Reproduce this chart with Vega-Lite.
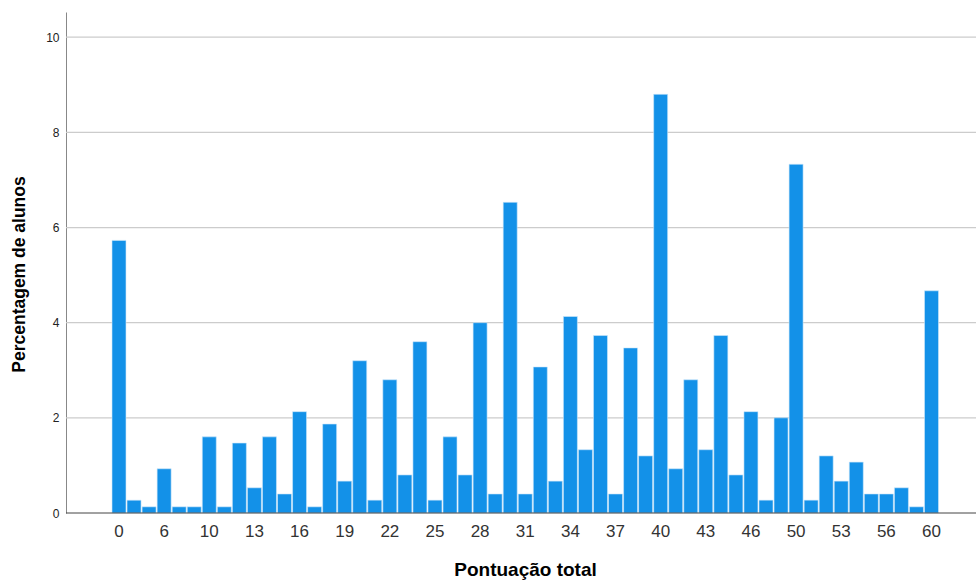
{
  "$schema": "https://vega.github.io/schema/vega-lite/v6.json",
  "width": 910,
  "height": 501,
  "autosize": {"type": "none"},
  "padding": {"left": 66, "top": 12, "right": 0, "bottom": 70},
  "background": "white",
  "config": {
    "font": "Liberation Sans",
    "view": {"stroke": null}
  },
  "datasets": {
    "grelha": [
      {"valor": 2}, {"valor": 4}, {"valor": 6}, {"valor": 8}, {"valor": 10}
    ],
    "base": [
      {"valor": 0}
    ],
    "pontuacoes": [
      {"pontuacao": 0, "percentagem": 5.73},
      {"pontuacao": 2, "percentagem": 0.27},
      {"pontuacao": 4, "percentagem": 0.13},
      {"pontuacao": 6, "percentagem": 0.93},
      {"pontuacao": 7, "percentagem": 0.13},
      {"pontuacao": 8, "percentagem": 0.13},
      {"pontuacao": 10, "percentagem": 1.6},
      {"pontuacao": 11, "percentagem": 0.13},
      {"pontuacao": 12, "percentagem": 1.47},
      {"pontuacao": 13, "percentagem": 0.53},
      {"pontuacao": 14, "percentagem": 1.6},
      {"pontuacao": 15, "percentagem": 0.4},
      {"pontuacao": 16, "percentagem": 2.13},
      {"pontuacao": 17, "percentagem": 0.13},
      {"pontuacao": 18, "percentagem": 1.87},
      {"pontuacao": 19, "percentagem": 0.67},
      {"pontuacao": 20, "percentagem": 3.2},
      {"pontuacao": 21, "percentagem": 0.27},
      {"pontuacao": 22, "percentagem": 2.8},
      {"pontuacao": 23, "percentagem": 0.8},
      {"pontuacao": 24, "percentagem": 3.6},
      {"pontuacao": 25, "percentagem": 0.27},
      {"pontuacao": 26, "percentagem": 1.6},
      {"pontuacao": 27, "percentagem": 0.8},
      {"pontuacao": 28, "percentagem": 4.0},
      {"pontuacao": 29, "percentagem": 0.4},
      {"pontuacao": 30, "percentagem": 6.53},
      {"pontuacao": 31, "percentagem": 0.4},
      {"pontuacao": 32, "percentagem": 3.07},
      {"pontuacao": 33, "percentagem": 0.67},
      {"pontuacao": 34, "percentagem": 4.13},
      {"pontuacao": 35, "percentagem": 1.33},
      {"pontuacao": 36, "percentagem": 3.73},
      {"pontuacao": 37, "percentagem": 0.4},
      {"pontuacao": 38, "percentagem": 3.47},
      {"pontuacao": 39, "percentagem": 1.2},
      {"pontuacao": 40, "percentagem": 8.8},
      {"pontuacao": 41, "percentagem": 0.93},
      {"pontuacao": 42, "percentagem": 2.8},
      {"pontuacao": 43, "percentagem": 1.33},
      {"pontuacao": 44, "percentagem": 3.73},
      {"pontuacao": 45, "percentagem": 0.8},
      {"pontuacao": 46, "percentagem": 2.13},
      {"pontuacao": 47, "percentagem": 0.27},
      {"pontuacao": 48, "percentagem": 2.0},
      {"pontuacao": 50, "percentagem": 7.33},
      {"pontuacao": 51, "percentagem": 0.27},
      {"pontuacao": 52, "percentagem": 1.2},
      {"pontuacao": 53, "percentagem": 0.67},
      {"pontuacao": 54, "percentagem": 1.07},
      {"pontuacao": 55, "percentagem": 0.4},
      {"pontuacao": 56, "percentagem": 0.4},
      {"pontuacao": 57, "percentagem": 0.53},
      {"pontuacao": 58, "percentagem": 0.13},
      {"pontuacao": 60, "percentagem": 4.67}
    ]
  },
  "layer": [
    {
      "data": {"name": "grelha"},
      "mark": {"type": "rule", "color": "#cccccc", "strokeWidth": 1.2},
      "encoding": {
        "y": {"field": "valor", "type": "quantitative"}
      }
    },
    {
      "data": {"name": "pontuacoes"},
      "mark": {"type": "bar", "color": "#1391e8", "stroke": "#cfe8fa", "strokeWidth": 0.6},
      "encoding": {
        "x": {
          "field": "pontuacao",
          "type": "ordinal",
          "sort": null,
          "scale": {"range": [46, 872.5], "paddingInner": 0.07, "paddingOuter": 0},
          "axis": {
            "title": "Pontuação total",
            "values": [0, 6, 10, 13, 16, 19, 22, 25, 28, 31, 34, 37, 40, 43, 46, 50, 53, 56, 60],
            "labelAngle": 0,
            "labelFontSize": 17,
            "labelColor": "#333333",
            "labelPadding": 10,
            "ticks": false,
            "domain": false,
            "titleFontSize": 19,
            "titleFontWeight": "bold",
            "titleColor": "#000000",
            "titlePadding": 21,
            "titleX": 459,
            "grid": false
          }
        },
        "y": {
          "field": "percentagem",
          "type": "quantitative",
          "scale": {"domain": [0, 10.53], "nice": false},
          "axis": {
            "title": "Percentagem de alunos",
            "values": [0, 2, 4, 6, 8, 10],
            "labelFontSize": 12,
            "labelColor": "#222222",
            "labelPadding": 7,
            "ticks": false,
            "grid": false,
            "domainColor": "#888888",
            "titleFontSize": 17.5,
            "titleFontWeight": "bold",
            "titleColor": "#000000",
            "titlePadding": 17,
            "titleY": 262
          }
        }
      }
    },
    {
      "data": {"name": "base"},
      "mark": {"type": "rule", "color": "#444444", "strokeWidth": 1},
      "encoding": {
        "y": {"field": "valor", "type": "quantitative"}
      }
    }
  ]
}
